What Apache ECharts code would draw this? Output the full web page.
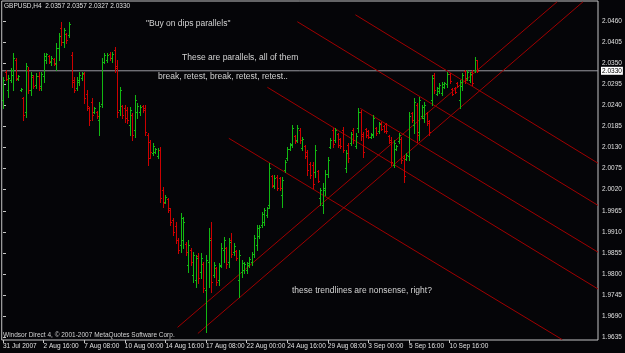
<!DOCTYPE html>
<html>
<head>
<meta charset="utf-8">
<script src="https://cdn.jsdelivr.net/npm/echarts@6/dist/echarts.min.js"></script>
<style>
  html, body { margin: 0; padding: 0; background: #050508; }
  #chart { width: 625px; height: 353px; }
</style>
</head>
<body>
<div id="chart"></div>
<script>
// GBPUSD H4, one value per bar
const opens = [
  2.0254, 2.0327, 2.0280, 2.0306, 2.0319, 2.0358, 2.0309, 2.0280, 2.0259, 2.0223,
  2.0332, 2.0280, 2.0314, 2.0293, 2.0317, 2.0291, 2.0317, 2.0358, 2.0369, 2.0353,
  2.0361, 2.0351, 2.0390, 2.0442, 2.0405, 2.0426, 2.0424, 2.0371, 2.0306, 2.0285,
  2.0301, 2.0311, 2.0322, 2.0270, 2.0233, 2.0249, 2.0223, 2.0223, 2.0202, 2.0244,
  2.0353, 2.0358, 2.0374, 2.0364, 2.0385, 2.0343, 2.0228, 2.0238, 2.0233, 2.0228,
  2.0189, 2.0215, 2.0176, 2.0223, 2.0223, 2.0238, 2.0233, 2.0163, 2.0144, 2.0116,
  2.0118, 2.0108, 2.0124, 2.0019, 1.9988, 1.9996, 1.9967, 1.9941, 1.9925, 1.9889,
  1.9876, 1.9889, 1.9878, 1.9823, 1.9863, 1.9797, 1.9784, 1.9847, 1.9805, 1.9826,
  1.9758, 1.9831, 1.9894, 1.9797, 1.9816, 1.9784, 1.9823, 1.9863, 1.9868, 1.9831,
  1.9889, 1.9857, 1.9860, 1.9784, 1.9805, 1.9810, 1.9810, 1.9823, 1.9831, 1.9852,
  1.9876, 1.9899, 1.9928, 1.9936, 1.9954, 1.9980, 2.0056, 2.0030, 2.0053, 2.0051,
  2.0006, 2.0071, 2.0103, 2.0126, 2.0139, 2.0160, 2.0150, 2.0176, 2.0129, 2.0134,
  2.0118, 2.0087, 2.0084, 2.0066, 2.0069, 1.9999, 1.9980, 2.0019, 2.0061, 2.0131,
  2.0176, 2.0150, 2.0165, 2.0152, 2.0176, 2.0077, 2.0137, 2.0142, 2.0176, 2.0134,
  2.0181, 2.0223, 2.0165, 2.0178, 2.0173, 2.0157, 2.0163, 2.0181, 2.0173, 2.0194,
  2.0186, 2.0191, 2.0160, 2.0150, 2.0084, 2.0126, 2.0147, 2.0152, 2.0103, 2.0100,
  2.0108, 2.0220, 2.0189, 2.0241, 2.0170, 2.0212, 2.0207, 2.0220, 2.0199, 2.0254,
  2.0319, 2.0270, 2.0278, 2.0272, 2.0288, 2.0296, 2.0322, 2.0283, 2.0285, 2.0298,
  2.0254, 2.0291, 2.0330, 2.0311, 2.0306, 2.0327, 2.0332, 2.0357
]
const highs = [
  2.0314, 2.0332, 2.0319, 2.0338, 2.0377, 2.0364, 2.0319, 2.0285, 2.0262, 2.0351,
  2.0340, 2.0327, 2.0319, 2.0324, 2.0327, 2.0327, 2.0377, 2.0377, 2.0371, 2.0369,
  2.0364, 2.0403, 2.0429, 2.0458, 2.0442, 2.0429, 2.0458, 2.0379, 2.0314, 2.0314,
  2.0327, 2.0327, 2.0327, 2.0280, 2.0236, 2.0259, 2.0236, 2.0225, 2.0249, 2.0364,
  2.0377, 2.0377, 2.0379, 2.0379, 2.0392, 2.0358, 2.0288, 2.0241, 2.0241, 2.0236,
  2.0236, 2.0220, 2.0267, 2.0246, 2.0241, 2.0241, 2.0241, 2.0168, 2.0150, 2.0142,
  2.0129, 2.0129, 2.0131, 2.0027, 2.0006, 1.9999, 1.9972, 1.9946, 1.9936, 1.9894,
  1.9959, 1.9949, 1.9883, 1.9889, 1.9868, 1.9857, 1.9849, 1.9855, 1.9855, 1.9831,
  1.9849, 1.9920, 1.9936, 1.9831, 1.9818, 1.9829, 1.9881, 1.9896, 1.9870, 1.9894,
  1.9907, 1.9881, 1.9863, 1.9863, 1.9836, 1.9831, 1.9831, 1.9844, 1.9857, 1.9902,
  1.9928, 1.9928, 1.9962, 1.9972, 1.9975, 2.0090, 2.0058, 2.0058, 2.0058, 2.0053,
  2.0053, 2.0097, 2.0131, 2.0142, 2.0189, 2.0163, 2.0189, 2.0181, 2.0157, 2.0137,
  2.0124, 2.0092, 2.0092, 2.0137, 2.0071, 2.0025, 2.0038, 2.0071, 2.0105, 2.0155,
  2.0181, 2.0181, 2.0168, 2.0155, 2.0184, 2.0124, 2.0142, 2.0170, 2.0181, 2.0168,
  2.0233, 2.0228, 2.0170, 2.0181, 2.0176, 2.0168, 2.0215, 2.0184, 2.0197, 2.0197,
  2.0189, 2.0194, 2.0163, 2.0157, 2.0150, 2.0137, 2.0168, 2.0157, 2.0111, 2.0116,
  2.0223, 2.0223, 2.0259, 2.0246, 2.0262, 2.0241, 2.0249, 2.0223, 2.0202, 2.0319,
  2.0324, 2.0288, 2.0298, 2.0301, 2.0301, 2.0327, 2.0324, 2.0285, 2.0288, 2.0301,
  2.0306, 2.0324, 2.0332, 2.0332, 2.0327, 2.0332, 2.0366, 2.0357
]
const lows = [
  2.0233, 2.0306, 2.0262, 2.0301, 2.0280, 2.0306, 2.0306, 2.0278, 2.0202, 2.0210,
  2.0272, 2.0267, 2.0285, 2.0285, 2.0280, 2.0280, 2.0301, 2.0351, 2.0351, 2.0345,
  2.0345, 2.0332, 2.0358, 2.0398, 2.0392, 2.0403, 2.0418, 2.0288, 2.0275, 2.0280,
  2.0293, 2.0306, 2.0246, 2.0228, 2.0189, 2.0202, 2.0220, 2.0207, 2.0163, 2.0236,
  2.0351, 2.0353, 2.0358, 2.0353, 2.0327, 2.0210, 2.0215, 2.0207, 2.0197, 2.0194,
  2.0163, 2.0150, 2.0157, 2.0207, 2.0215, 2.0223, 2.0163, 2.0084, 2.0103, 2.0111,
  2.0116, 2.0103, 1.9988, 1.9975, 1.9985, 1.9962, 1.9928, 1.9902, 1.9881, 1.9855,
  1.9857, 1.9868, 1.9849, 1.9805, 1.9823, 1.9779, 1.9766, 1.9776, 1.9789, 1.9753,
  1.9649, 1.9766, 1.9753, 1.9792, 1.9771, 1.9771, 1.9818, 1.9831, 1.9816, 1.9818,
  1.9844, 1.9849, 1.9836, 1.9740, 1.9792, 1.9802, 1.9802, 1.9818, 1.9823, 1.9844,
  1.9863, 1.9894, 1.9923, 1.9928, 1.9949, 1.9972, 2.0027, 2.0025, 2.0019, 2.0019,
  1.9975, 2.0066, 2.0097, 2.0124, 2.0131, 2.0142, 2.0144, 2.0142, 2.0124, 2.0103,
  2.0058, 2.0051, 2.0025, 2.0053, 2.0040, 1.9980, 1.9959, 2.0006, 2.0053, 2.0129,
  2.0131, 2.0144, 2.0131, 2.0129, 2.0118, 2.0066, 2.0092, 2.0137, 2.0142, 2.0129,
  2.0170, 2.0150, 2.0105, 2.0157, 2.0155, 2.0155, 2.0157, 2.0163, 2.0168, 2.0176,
  2.0170, 2.0168, 2.0142, 2.0084, 2.0079, 2.0124, 2.0142, 2.0090, 2.0040, 2.0097,
  2.0097, 2.0197, 2.0168, 2.0144, 2.0150, 2.0207, 2.0197, 2.0189, 2.0163, 2.0241,
  2.0272, 2.0267, 2.0272, 2.0267, 2.0285, 2.0288, 2.0298, 2.0267, 2.0272, 2.0288,
  2.0233, 2.0280, 2.0298, 2.0306, 2.0301, 2.0293, 2.0327, 2.0327
]
const closes = [
  2.0306, 2.0309, 2.0311, 2.0332, 2.0364, 2.0311, 2.0317, 2.0283, 2.0215, 2.0343,
  2.0280, 2.0319, 2.0291, 2.0317, 2.0285, 2.0322, 2.0369, 2.0374, 2.0356, 2.0364,
  2.0348, 2.0390, 2.0421, 2.0405, 2.0437, 2.0411, 2.0452, 2.0301, 2.0280, 2.0306,
  2.0319, 2.0324, 2.0259, 2.0238, 2.0202, 2.0215, 2.0233, 2.0212, 2.0238, 2.0353,
  2.0371, 2.0371, 2.0364, 2.0374, 2.0338, 2.0223, 2.0280, 2.0215, 2.0207, 2.0202,
  2.0228, 2.0163, 2.0254, 2.0238, 2.0236, 2.0228, 2.0170, 2.0103, 2.0118, 2.0134,
  2.0126, 2.0124, 1.9999, 1.9985, 2.0001, 1.9972, 1.9936, 1.9910, 1.9889, 1.9863,
  1.9946, 1.9936, 1.9857, 1.9876, 1.9831, 1.9849, 1.9842, 1.9789, 1.9842, 1.9763,
  1.9836, 1.9889, 1.9779, 1.9823, 1.9779, 1.9821, 1.9868, 1.9889, 1.9826, 1.9883,
  1.9852, 1.9873, 1.9842, 1.9849, 1.9829, 1.9826, 1.9829, 1.9839, 1.9852, 1.9894,
  1.9920, 1.9923, 1.9957, 1.9967, 1.9972, 2.0077, 2.0032, 2.0051, 2.0025, 2.0025,
  2.0045, 2.0092, 2.0126, 2.0137, 2.0181, 2.0147, 2.0181, 2.0150, 2.0152, 2.0108,
  2.0071, 2.0058, 2.0035, 2.0124, 2.0043, 2.0019, 2.0025, 2.0061, 2.0097, 2.0150,
  2.0139, 2.0176, 2.0137, 2.0134, 2.0124, 2.0116, 2.0103, 2.0165, 2.0150, 2.0160,
  2.0223, 2.0160, 2.0118, 2.0163, 2.0157, 2.0165, 2.0207, 2.0168, 2.0191, 2.0178,
  2.0173, 2.0173, 2.0144, 2.0092, 2.0142, 2.0134, 2.0163, 2.0097, 2.0056, 2.0111,
  2.0212, 2.0202, 2.0249, 2.0163, 2.0254, 2.0236, 2.0241, 2.0194, 2.0170, 2.0311,
  2.0280, 2.0285, 2.0293, 2.0296, 2.0298, 2.0322, 2.0304, 2.0270, 2.0275, 2.0291,
  2.0301, 2.0319, 2.0306, 2.0327, 2.0322, 2.0298, 2.0358, 2.0330
]

// time axis: a label every 16 bars, empty space to the right (chart shift)
const xLabels = ['31 Jul 2007', '2 Aug 16:00', '7 Aug 08:00', '10 Aug 00:00', '14 Aug 16:00',
  '17 Aug 08:00', '22 Aug 00:00', '24 Aug 16:00', '29 Aug 08:00', '3 Sep 00:00',
  '5 Sep 16:00', '10 Sep 16:00']
const xLabelBars = [0, 16, 32, 48, 64, 80, 96, 112, 128, 144, 160, 176]
const barSlots = 235

const priceTicks = [1.9635, 1.9690, 1.9745, 1.9800, 1.9855, 1.9910, 1.9965, 2.0020,
  2.0075, 2.0130, 2.0185, 2.0240, 2.0295, 2.0350, 2.0405, 2.0460]
const priceMin = 1.9628
const priceMax = 2.0512

// hand drawn trendlines, [bar, price] endpoints
const upLines = [
  [[68.8, 1.9661], [218.4, 2.0510]],
  [[76.8, 1.9645], [228.6, 2.0510]]
]
const downLines = [
  [[138.9, 2.0476], [234.5, 2.0089]],
  [[116.0, 2.0458], [234.5, 1.9979]],
  [[104.2, 2.0287], [234.5, 1.9761]],
  [[140.8, 2.0232], [234.5, 1.9857]],
  [[89.0, 2.0154], [220.4, 1.9629]]
]

const bid = closes[closes.length - 1]

const upColor = '#12b812'
const downColor = '#cc0000'
const lineColor = '#a00000'
const textColor = '#d4d4d4'
const font = '"Liberation Sans", Arial, sans-serif'

const bars = opens.map((o, i) => [i, o, highs[i], lows[i], closes[i]])

const chart = echarts.init(document.getElementById('chart'), null, { renderer: 'canvas' })

function renderBar(params, api) {
  const i = api.value(0)
  const o = api.coord([i, api.value(1)])
  const h = api.coord([i, api.value(2)])
  const l = api.coord([i, api.value(3)])
  const c = api.coord([i, api.value(4)])
  const x = Math.round(h[0]) + 0.5
  const style = { stroke: api.value(4) >= api.value(1) ? upColor : downColor, lineWidth: 1 }
  const oy = Math.round(o[1]) + 0.5
  const cy = Math.round(c[1]) + 0.5
  return {
    type: 'group',
    children: [
      { type: 'line', shape: { x1: x, y1: Math.round(h[1]), x2: x, y2: Math.round(l[1]) + 1 }, style },
      { type: 'line', shape: { x1: x - 1.5, y1: oy, x2: x - 0.5, y2: oy }, style },
      { type: 'line', shape: { x1: x + 0.5, y1: cy, x2: x + 1.5, y2: cy }, style }
    ]
  }
}

const trendSeries = upLines.concat(downLines).map(pts => ({
  type: 'line',
  data: pts,
  symbol: 'none',
  silent: true,
  clip: true,
  lineStyle: { color: lineColor, width: 1 },
  z: 3
}))

const option = {
  backgroundColor: '#050508',
  animation: false,
  grid: {
    left: 1, right: 27, top: 1, bottom: 13,
    show: true, borderColor: '#c4c4c4', borderWidth: 1, backgroundColor: 'transparent'
  },
  xAxis: {
    type: 'value',
    min: -0.5,
    max: barSlots - 0.5,
    splitLine: { show: false },
    axisLine: { show: false },
    axisTick: { show: true, customValues: xLabelBars, length: 3, lineStyle: { color: '#c4c4c4' } },
    axisLabel: {
      customValues: xLabelBars,
      formatter: v => xLabels[xLabelBars.indexOf(v)] || '',
      color: '#e0e0e0', fontSize: 6.5, fontFamily: font, align: 'left', margin: 3
    }
  },
  yAxis: {
    type: 'value',
    position: 'right',
    min: priceMin,
    max: priceMax,
    splitLine: { show: false },
    axisLine: { show: false },
    axisTick: { show: true, customValues: priceTicks, length: 3, lineStyle: { color: '#c4c4c4' } },
    axisLabel: {
      customValues: priceTicks,
      formatter: v => v.toFixed(4),
      color: '#e0e0e0', fontSize: 6.5, fontFamily: font, margin: 4
    }
  },
  series: [
    {
      // bid line across the whole chart, price box at the right
      type: 'line',
      data: [[-0.5, bid], [barSlots - 0.5, bid]],
      symbol: 'none',
      silent: true,
      lineStyle: { color: '#9a9aa0', width: 1 },
      endLabel: {
        show: true,
        formatter: bid.toFixed(4),
        distance: 3,
        color: '#000',
        backgroundColor: '#fff',
        padding: [1, 1, 0, 1],
        fontSize: 6.5,
        fontFamily: font
      },
      z: 2
    },
    {
      type: 'custom',
      renderItem: renderBar,
      encode: { x: 0, y: [1, 2, 3, 4] },
      data: bars,
      clip: true,
      z: 4
    },
    ...trendSeries
  ],
  graphic: [
    { type: 'text', left: 4, top: 3, style: { text: 'GBPUSD,H4  2.0357 2.0357 2.0327 2.0330', fill: '#e0e0e0', fontSize: 6.5, fontFamily: font } },
    { type: 'text', left: 146, top: 19, style: { text: '"Buy on dips parallels"', fill: textColor, fontSize: 8.5, fontFamily: font } },
    { type: 'text', left: 182, top: 53, style: { text: 'These are parallels, all of them', fill: textColor, fontSize: 8.5, fontFamily: font } },
    { type: 'text', left: 158, top: 72, style: { text: 'break, retest, break, retest, retest..', fill: textColor, fontSize: 8.5, fontFamily: font } },
    { type: 'text', left: 292, top: 286, style: { text: 'these trendlines are nonsense, right?', fill: textColor, fontSize: 8.5, fontFamily: font } },
    { type: 'text', left: 3, top: 332, style: { text: 'Windsor Direct 4, © 2001-2007 MetaQuotes Software Corp.', fill: textColor, fontSize: 6.5, fontFamily: font } }
  ]
}

chart.setOption(option)

window.addEventListener('resize', () => {
  chart.resize()
})
</script>
</body>
</html>
